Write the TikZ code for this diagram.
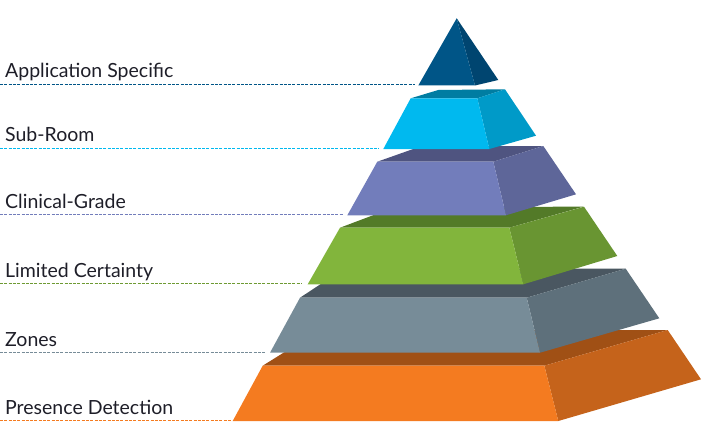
\documentclass[tikz,border=0pt]{standalone}
\usepackage{fontspec}
\setmainfont{Lato}
\definecolor{navyF}{HTML}{005587}
\definecolor{navyR}{HTML}{004570}
\definecolor{cyanF}{HTML}{00B9EF}
\definecolor{cyanR}{HTML}{009AC8}
\definecolor{cyanT}{HTML}{007DA2}
\definecolor{purF}{HTML}{727DBB}
\definecolor{purR}{HTML}{5E6699}
\definecolor{purT}{HTML}{4F5480}
\definecolor{grnF}{HTML}{82B53C}
\definecolor{grnR}{HTML}{699532}
\definecolor{grnT}{HTML}{537A28}
\definecolor{gryF}{HTML}{778C98}
\definecolor{gryR}{HTML}{5E707B}
\definecolor{gryT}{HTML}{4A5761}
\definecolor{orgF}{HTML}{F47B20}
\definecolor{orgR}{HTML}{C5631B}
\definecolor{orgT}{HTML}{A05015}
\definecolor{txt}{HTML}{1E1E28}
\tikzset{
  lbl/.style={anchor=base west, inner sep=0pt, text=txt, font=\fontsize{19.5}{22}\selectfont},
  guide/.style={line width=0.8pt, dash pattern=on 3pt off 1.3pt}
}
\begin{document}
\begin{tikzpicture}[x=1pt,y=-1pt]
\useasboundingbox (0,0) rectangle (706,441);
% ---- orange (bottom)
\fill[orgT] (262.7,365.7) -- (320,330) -- (667.7,330) -- (544.3,365.7) -- cycle;
\fill[orgR] (544.3,365.7) -- (667.7,330) -- (701,379.3) -- (558.3,421) -- cycle;
\fill[orgF] (262.7,365.7) -- (544.3,365.7) -- (558.3,421) -- (232.7,421) -- cycle;
% ---- gray
\fill[gryT] (300,297.7) -- (344,268.7) -- (625.7,268.7) -- (526.7,297.7) -- cycle;
\fill[gryR] (526.7,297.7) -- (625.7,268.7) -- (659.3,318.3) -- (540,352.7) -- cycle;
\fill[gryF] (300,297.7) -- (526.7,297.7) -- (540,352.7) -- (270,352.7) -- cycle;
% ---- green
\fill[grnT] (340,227.7) -- (395,207) -- (583.3,206.7) -- (509.3,227.7) -- cycle;
\fill[grnR] (509.3,227.7) -- (584,206.7) -- (617.3,256) -- (523.3,284.3) -- cycle;
\fill[grnF] (340,227.7) -- (509.3,227.7) -- (523.3,284.3) -- (307.7,284.3) -- cycle;
% ---- purple
\fill[purT] (377.3,161.7) -- (421.7,146) -- (543.3,146) -- (493.3,161.7) -- cycle;
\fill[purR] (493.3,161.7) -- (543.3,146) -- (576,194.3) -- (506,215.3) -- cycle;
\fill[purF] (377.3,161.7) -- (493.3,161.7) -- (506,215.3) -- (347.3,215.3) -- cycle;
% ---- cyan
\fill[cyanT] (410.7,98.3) -- (438.3,90) -- (505,89.3) -- (477.3,98.3) -- cycle;
\fill[cyanR] (477.3,98.3) -- (505,89.3) -- (536,135.7) -- (489.3,149) -- cycle;
\fill[cyanF] (410.7,98.3) -- (477.3,98.3) -- (489.3,149) -- (383.3,149) -- cycle;
% ---- apex
\fill[navyR] (456.7,18.3) -- (475,85.5) -- (498.3,80) -- cycle;
\fill[navyF] (456.7,18.3) -- (418.3,85.5) -- (475,85.5) -- cycle;
% ---- labels
\node[lbl] (l1) at (5,78) {Application Specific};
\node[lbl] (l2) at (5,142) {Sub-Room};
\node[lbl] (l3) at (5,208) {Clinical-Grade};
\node[lbl] (l4) at (5,277.5) {Limited Certainty};
\node[lbl] (l5) at (5,346) {Zones};
\node[lbl] (l6) at (5,414) {Presence Detection};
% ---- guide lines
\coordinate (g1a) at (0,84.3);  \coordinate (g1b) at (415,84.3);
\coordinate (g2a) at (0,148.3); \coordinate (g2b) at (379,148.3);
\coordinate (g3a) at (0,214);   \coordinate (g3b) at (343,214);
\coordinate (g4a) at (0,283.3); \coordinate (g4b) at (302,283.3);
\coordinate (g5a) at (0,352.3); \coordinate (g5b) at (266,352.3);
\coordinate (g6a) at (0,420);   \coordinate (g6b) at (231,420);
\draw[guide, navyF] (g1a) -- (g1b);
\draw[guide, cyanF] (g2a) -- (g2b);
\draw[guide, purF] (g3a) -- (g3b);
\draw[guide, grnF!85!black] (g4a) -- (g4b);
\draw[guide, gryF] (g5a) -- (g5b);
\draw[guide, orgF] (g6a) -- (g6b);
\end{tikzpicture}
\end{document}
